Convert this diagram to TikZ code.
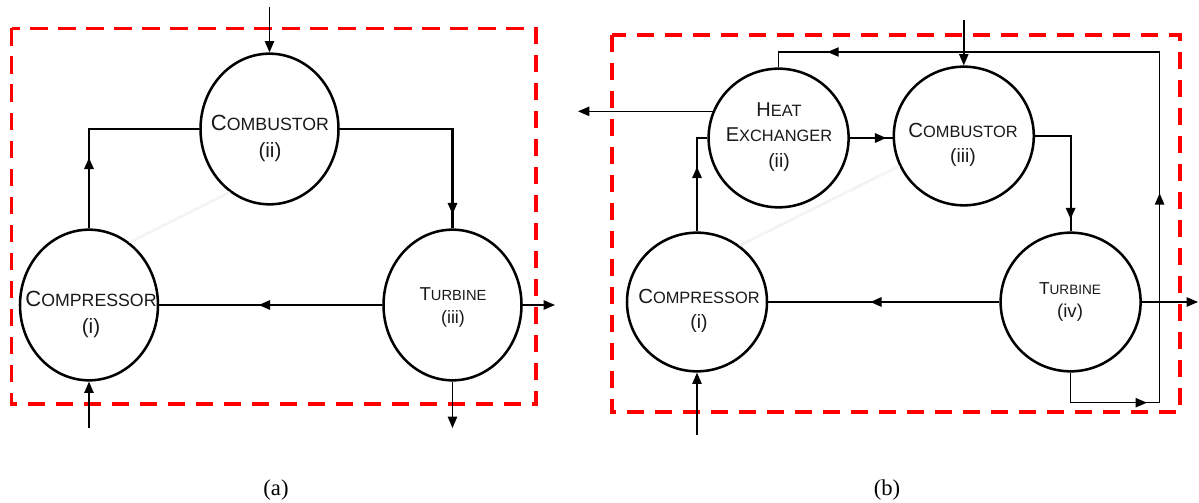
\documentclass[tikz,border=0pt]{standalone}
\usepackage{fontspec}
\setmainfont{Liberation Serif}
\setsansfont{Liberation Sans}
\usetikzlibrary{arrows.meta,shapes.geometric,decorations.markings}

% first letter large, rest small (fake small caps)
\newcommand{\scw}[3]{{\fontsize{#1}{0pt}\selectfont #2}#3}
\newcommand{\idx}[2]{{\fontsize{#1}{0pt}\selectfont #2}}

\begin{document}
\begin{tikzpicture}[
  x=0.75pt, y=-0.75pt,
  >={Triangle[length=8.5pt,width=7pt]},
  unit/.style={draw, ellipse, line width=1.9pt, inner sep=0pt},
  unita/.style={unit, minimum width=103.5pt, minimum height=113pt},
  unitb/.style={unit, minimum width=105pt, minimum height=104pt},
  tag/.style 2 args={align=center, anchor=base, inner sep=0pt, text=black!90,
                     font=\sffamily\fontsize{#1}{#2}\selectfont},
  flow/.style={line width=1.6pt},
  feed/.style={line width=1.1pt, ->},
  tipat/.style={postaction={decorate}, decoration={markings,
                mark=at position #1 with {\arrow{>}}}},
  ghost/.style={draw=black!15, double=white, double distance=0.8pt, line width=0.3pt},
  sysbox/.style={draw=red, line width=2.6pt, dash pattern=on 13pt off 8pt},
  caption/.style={font=\fontsize{17pt}{20pt}\selectfont}
]
  \useasboundingbox (0,0) rectangle (1199,503);

  % ---- (a) simple cycle
  \draw[sysbox] (11.5,28.5) rectangle (536,404);
  \node[unita] (compA) at (89,305) {};
  \node[unita] (combA) at (269.5,129) {};
  \node[unita] (turbA) at (452.5,305) {};
  \node[tag={13.3pt}{20pt}] (compA-t) at (91,333) {\scw{16.5pt}{C}{OMPRESSOR}\\\idx{15.5pt}{(i)}};
  \node[tag={13.3pt}{20pt}] (combA-t) at (270,157) {\scw{16.5pt}{C}{OMBUSTOR}\\\idx{15.5pt}{(ii)}};
  \node[tag={11pt}{17pt}] (turbA-t) at (453,323) {\scw{14pt}{T}{URBINE}\\\idx{13.4pt}{(iii)}};

  \draw[ghost] (compA.57) -- (combA.238);
  \draw[flow, tipat=53pt] (compA.north) |- (combA.west);
  \draw[flow, tipat=148.5pt] (combA.east) -| (turbA.north);
  \draw[flow, tipat=92.6pt] (turbA.west) -- (compA.east);

  \coordinate (ina) at (269.5,7);
  \coordinate (outa) at (555,305);
  \coordinate (exa) at (452.5,428);
  \coordinate (aira) at (89,428);
  \draw[feed] (ina) -- (combA.north);
  \draw[feed] (turbA.east) -- (outa);
  \draw[feed] (turbA.south) -- (exa);
  \draw[feed] (aira) -- (compA.south);

  % ---- (b) recuperated cycle
  \draw[sysbox] (612,35) rectangle (1180,412);
  \node[unitb] (compB) at (697,302) {};
  \node[unitb] (hxB) at (778.6,138) {};
  \node[unitb] (combB) at (963.8,136) {};
  \node[unitb] (turbB) at (1070.6,302) {};
  \node[tag={12.3pt}{18.4pt}] (compB-t) at (699,328) {\scw{15.3pt}{C}{OMPRESSOR}\\\idx{14.5pt}{(i)}};
  \node[tag={12.3pt}{19pt}] (hxB-t) at (779,167) {\scw{15pt}{H}{EAT}\\\scw{15pt}{E}{XCHANGER}\\\idx{14.5pt}{(ii)}};
  \node[tag={12.3pt}{18.4pt}] (combB-t) at (963,162) {\scw{15.3pt}{C}{OMBUSTOR}\\\idx{14.5pt}{(iii)}};
  \node[tag={10.2pt}{17.2pt}] (turbB-t) at (1070,317) {\scw{13pt}{T}{URBINE}\\\idx{14pt}{(iv)}};

  \draw[ghost] (compB.53) -- (combB.205);
  \draw[flow, tipat=48.5pt] (compB.north) |- (hxB.west);
  \draw[flow, tipat=27.3pt] (hxB.east) -- (hxB.east -| combB.west);
  \draw[flow, tipat=89pt] (combB.east) -| (turbB.north);
  \draw[flow, tipat=96.8pt] (turbB.west) -- (compB.east);

  \coordinate (rcb) at (1159.6,402.7);
  \coordinate (rct) at (1159.6,52);
  \draw[line width=1pt, postaction={decorate}, decoration={markings,
      mark=at position 79.8pt with {\arrow{>}},
      mark=at position 246.4pt with {\arrow{>}},
      mark=at position 601.5pt with {\arrow{>}}}]
    (turbB.south) |- (rcb) -- (rct) -| (hxB.north);

  \coordinate (inb) at (963.8,20);
  \coordinate (hxout) at (578,110.7);
  \coordinate (outb) at (1198,302);
  \coordinate (airb) at (697,434.6);
  \draw[feed] (inb) -- (combB.north);
  \draw[feed] (hxB.158) -- (hxB.158 -| hxout);
  \draw[feed] (turbB.east) -- (outb);
  \draw[feed] (airb) -- (compB.south);

  \node[caption] (capa) at (276,490) {(a)};
  \node[caption] (capb) at (887,490) {(b)};
\end{tikzpicture}
\end{document}
